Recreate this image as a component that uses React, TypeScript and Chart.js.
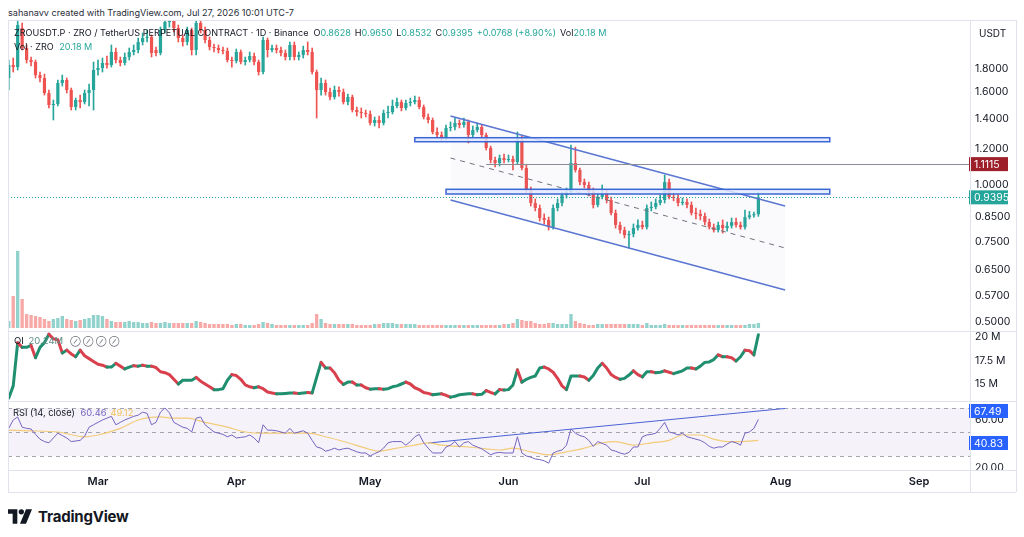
import React, { useEffect, useRef } from "react";
import { Chart, registerables } from "chart.js";
Chart.register(...registerables);

const FONT = "Inter, 'Noto Sans', 'DejaVu Sans', sans-serif";
const UP = "#26a69a";
const DOWN = "#ef5350";
const TEXT = "#131722";
const FRAME = "#e0e3eb";

// x axis: candle index (0 = Feb 9, 2026), one per day
const X_MIN = -0.17;
const X_MAX = 215.43;
const MONTHS = ["Mar", "Apr", "May", "Jun", "Jul", "Aug", "Sep"];
const MONTH_IDX = [20, 51, 81, 112, 142, 173, 204];

const OPEN = [
  1.719, 1.836, 1.817, 2.214, 2.001, 1.883, 1.864, 1.745, 1.719, 1.593,
  1.4995, 1.507, 1.676, 1.702, 1.618, 1.484, 1.538, 1.522, 1.593, 1.618,
  1.790, 1.808, 1.855, 1.836, 1.961, 1.883, 1.855, 1.912, 1.961, 1.981,
  2.063, 2.105, 2.116, 1.981, 1.951, 2.192, 2.283, 2.306, 2.214, 2.105,
  2.063, 2.192, 1.981, 2.271, 2.192, 2.084, 2.011, 2.001, 1.981, 1.971,
  1.883, 1.874, 1.961, 1.864, 1.883, 1.922, 1.864, 1.772, 2.084, 1.981,
  2.001, 1.981, 1.951, 1.912, 2.032, 1.912, 1.932, 1.981, 1.961, 1.772,
  1.618, 1.676, 1.601, 1.561, 1.618, 1.601, 1.522, 1.561, 1.462, 1.447,
  1.440, 1.433, 1.369, 1.390, 1.369, 1.440, 1.447, 1.492, 1.522, 1.477,
  1.515, 1.522, 1.538, 1.484, 1.411, 1.390, 1.308, 1.288, 1.269, 1.335,
  1.341, 1.369, 1.355, 1.376, 1.288, 1.321, 1.341, 1.288, 1.206, 1.135,
  1.118, 1.146, 1.135, 1.141, 1.124, 1.256, 1.090, 0.975, 0.913, 0.890,
  0.846, 0.838, 0.808, 0.890, 0.913, 0.951, 0.965, 1.118, 1.079, 1.015,
  1.000, 0.965, 0.904, 0.941, 0.960, 0.927, 0.868, 0.817, 0.796, 0.776,
  0.780, 0.804, 0.817, 0.808, 0.890, 0.895, 0.913, 0.927, 1.015, 0.941,
  0.936, 0.913, 0.918, 0.904, 0.868, 0.864, 0.855, 0.829, 0.808, 0.796,
  0.817, 0.804, 0.813, 0.829, 0.817, 0.808, 0.850, 0.858, 0.8628,
];
const HIGH = [
  1.883, 1.902, 2.306, 2.271, 2.032, 1.912, 1.883, 1.772, 1.754, 1.618,
  1.538, 1.702, 1.745, 1.719, 1.634, 1.553, 1.577, 1.618, 1.668, 1.864,
  1.883, 1.902, 1.922, 2.032, 2.001, 1.912, 1.951, 2.001, 2.032, 2.105,
  2.159, 2.192, 2.137, 2.011, 2.225, 2.329, 2.341, 2.329, 2.248, 2.137,
  2.225, 2.214, 2.306, 2.306, 2.225, 2.116, 2.042, 2.032, 2.011, 2.001,
  1.912, 1.991, 1.981, 1.912, 1.961, 1.951, 1.883, 2.116, 2.105, 2.032,
  2.032, 2.011, 1.981, 2.063, 2.063, 1.961, 2.021, 2.063, 2.001, 1.790,
  1.719, 1.702, 1.634, 1.651, 1.643, 1.626, 1.585, 1.577, 1.484, 1.477,
  1.462, 1.455, 1.411, 1.418, 1.462, 1.492, 1.538, 1.553, 1.538, 1.538,
  1.553, 1.569, 1.561, 1.4995, 1.433, 1.404, 1.335, 1.308, 1.355, 1.376,
  1.404, 1.390, 1.404, 1.390, 1.348, 1.369, 1.355, 1.301, 1.218, 1.152,
  1.164, 1.170, 1.164, 1.158, 1.308, 1.281, 1.107, 0.990, 0.932, 0.904,
  0.864, 0.850, 0.904, 0.932, 0.965, 0.985, 1.2245, 1.212, 1.090, 1.031,
  1.015, 0.985, 0.960, 1.000, 0.975, 0.941, 0.881, 0.829, 0.808, 0.792,
  0.821, 0.838, 0.833, 0.904, 0.918, 0.932, 0.951, 1.052, 1.031, 0.960,
  0.951, 0.936, 0.932, 0.918, 0.890, 0.881, 0.868, 0.842, 0.821, 0.829,
  0.838, 0.829, 0.846, 0.846, 0.829, 0.881, 0.875, 0.872, 0.9650,
];
const LOW = [
  1.618, 1.772, 1.790, 1.981, 1.855, 1.827, 1.719, 1.685, 1.577, 1.477,
  1.390, 1.492, 1.651, 1.593, 1.462, 1.462, 1.477, 1.507, 1.492, 1.462,
  1.745, 1.772, 1.808, 1.817, 1.855, 1.827, 1.836, 1.883, 1.932, 1.951,
  2.032, 2.063, 1.912, 1.922, 1.932, 2.159, 2.225, 2.170, 2.063, 2.021,
  2.032, 1.932, 1.932, 2.159, 2.053, 1.981, 1.961, 1.951, 1.941, 1.864,
  1.817, 1.855, 1.846, 1.836, 1.864, 1.836, 1.745, 1.754, 1.912, 1.961,
  1.951, 1.922, 1.883, 1.883, 1.883, 1.883, 1.902, 1.932, 1.754, 1.404,
  1.577, 1.577, 1.538, 1.545, 1.569, 1.507, 1.4995, 1.447, 1.418, 1.404,
  1.411, 1.355, 1.348, 1.335, 1.355, 1.404, 1.433, 1.477, 1.455, 1.462,
  1.492, 1.507, 1.470, 1.397, 1.369, 1.295, 1.269, 1.250, 1.256, 1.315,
  1.321, 1.335, 1.341, 1.237, 1.275, 1.308, 1.275, 1.194, 1.118, 1.096,
  1.101, 1.118, 1.124, 1.079, 1.112, 1.079, 0.960, 0.899, 0.877, 0.833,
  0.821, 0.796, 0.800, 0.877, 0.899, 0.936, 0.955, 1.068, 1.000, 0.985,
  0.946, 0.890, 0.895, 0.932, 0.913, 0.859, 0.804, 0.784, 0.765, 0.727,
  0.769, 0.796, 0.800, 0.800, 0.877, 0.886, 0.904, 0.913, 0.932, 0.923,
  0.899, 0.904, 0.890, 0.859, 0.842, 0.838, 0.817, 0.800, 0.788, 0.788,
  0.784, 0.792, 0.804, 0.808, 0.800, 0.800, 0.842, 0.850, 0.8532,
];
const CLOSE = [
  1.836, 1.817, 2.248, 2.001, 1.883, 1.864, 1.745, 1.719, 1.593, 1.4995,
  1.507, 1.676, 1.702, 1.618, 1.484, 1.538, 1.522, 1.593, 1.618, 1.790,
  1.808, 1.855, 1.836, 1.961, 1.883, 1.855, 1.912, 1.961, 1.981, 2.063,
  2.105, 2.116, 1.951, 1.951, 2.192, 2.283, 2.306, 2.214, 2.105, 2.063,
  2.192, 1.981, 2.271, 2.192, 2.084, 2.011, 2.001, 1.981, 1.971, 1.883,
  1.874, 1.961, 1.864, 1.883, 1.922, 1.864, 1.772, 2.084, 1.981, 2.001,
  1.981, 1.951, 1.912, 2.032, 1.912, 1.932, 1.981, 1.961, 1.772, 1.618,
  1.676, 1.601, 1.561, 1.618, 1.601, 1.522, 1.561, 1.462, 1.447, 1.440,
  1.433, 1.369, 1.390, 1.369, 1.440, 1.447, 1.492, 1.522, 1.477, 1.515,
  1.522, 1.538, 1.484, 1.411, 1.390, 1.308, 1.288, 1.269, 1.335, 1.341,
  1.369, 1.355, 1.376, 1.288, 1.321, 1.341, 1.288, 1.206, 1.135, 1.118,
  1.146, 1.135, 1.141, 1.124, 1.256, 1.090, 0.975, 0.913, 0.890, 0.846,
  0.838, 0.808, 0.890, 0.913, 0.951, 0.965, 1.118, 1.079, 1.015, 1.000,
  0.965, 0.904, 0.941, 0.960, 0.927, 0.868, 0.817, 0.796, 0.776, 0.780,
  0.804, 0.817, 0.808, 0.890, 0.895, 0.913, 0.927, 1.015, 0.941, 0.936,
  0.913, 0.918, 0.904, 0.868, 0.864, 0.855, 0.829, 0.808, 0.796, 0.817,
  0.804, 0.813, 0.829, 0.817, 0.808, 0.850, 0.858, 0.8628, 0.9395,
];
// volume, millions of ZRO
const VOLUME = [
  28, 128, 308, 116, 56, 52, 48, 44, 36, 28,
  36, 40, 48, 36, 32, 28, 32, 36, 40, 52,
  52, 48, 36, 28, 24, 24, 24, 28, 24, 24,
  20, 20, 24, 20, 20, 24, 20, 20, 20, 20,
  20, 20, 28, 24, 20, 16, 16, 16, 16, 16,
  12, 16, 16, 12, 12, 12, 16, 24, 20, 16,
  12, 12, 12, 12, 12, 12, 12, 12, 20, 56,
  36, 20, 16, 16, 16, 16, 16, 16, 12, 12,
  12, 12, 16, 16, 20, 20, 20, 16, 16, 16,
  16, 16, 12, 12, 12, 12, 12, 12, 12, 12,
  12, 12, 12, 12, 12, 12, 12, 12, 12, 12,
  12, 16, 16, 20, 36, 32, 28, 28, 20, 16,
  16, 20, 20, 16, 16, 16, 56, 28, 20, 16,
  12, 12, 16, 16, 16, 16, 16, 16, 16, 16,
  16, 16, 12, 20, 12, 12, 12, 16, 12, 12,
  12, 12, 12, 12, 12, 12, 12, 12, 12, 12,
  12, 12, 12, 12, 12, 12, 16, 16, 20,
];
// open interest, millions
const OI = [
  13.5, 14.8, 19.4, 18.9, 18.9, 19.1, 17.8, 18.9, 19.4, 20.3,
  19.8, 19.7, 18.3, 18.6, 18.2, 17.9, 18.6, 18.0, 17.7, 17.4,
  17.1, 17.0, 16.8, 16.8, 17.2, 16.9, 16.6, 16.8, 16.95, 16.9,
  17.0, 16.9, 16.9, 16.75, 16.3, 16.2, 16.0, 15.5, 15.0, 15.4,
  15.4, 15.4, 15.7, 15.3, 15.0, 14.7, 14.4, 14.4, 14.5, 15.4,
  16.0, 15.9, 15.5, 14.9, 14.7, 14.6, 14.7, 14.5, 14.15, 14.05,
  13.95, 13.95, 14.0, 14.05, 14.05, 14.0, 14.05, 14.1, 14.05, 15.7,
  17.3, 16.7, 16.7, 16.2, 15.4, 14.95, 15.2, 15.2, 14.9, 14.9,
  14.6, 14.45, 14.5, 14.5, 14.45, 14.5, 14.7, 14.8, 15.0, 15.2,
  15.0, 14.6, 14.4, 14.1, 14.0, 13.85, 13.9, 13.95, 13.8, 13.6,
  13.7, 13.85, 13.9, 13.95, 13.95, 13.85, 13.9, 14.3, 14.1, 13.95,
  14.4, 14.35, 14.4, 14.9, 16.5, 15.2, 15.5, 15.7, 15.85, 16.7,
  16.8, 16.6, 16.25, 15.6, 14.8, 14.4, 15.85, 15.85, 15.85, 15.75,
  15.4, 15.9, 16.7, 17.2, 16.7, 16.0, 15.7, 15.5, 15.6, 15.95,
  16.4, 16.0, 15.75, 16.3, 16.3, 16.2, 16.25, 16.4, 16.25, 16.1,
  16.25, 16.4, 16.7, 16.7, 16.6, 16.9, 17.3, 17.35, 17.6, 18.1,
  17.9, 17.9, 17.8, 17.45, 17.9, 18.6, 18.55, 18.1, 20.24,
];
const RSI = [
  53, 60, 62.5, 54, 53, 52.5, 48, 44, 42, 41,
  45, 49, 47, 45, 42, 42.5, 43, 46.5, 54, 56,
  58, 60, 61.5, 63, 56, 58, 60, 61.5, 63, 64,
  66.5, 65.5, 56, 58, 66.5, 70, 66, 58, 56, 54,
  53, 50, 61.5, 62.5, 56, 53, 50, 49, 48, 46,
  47.5, 45, 45.5, 46, 47.5, 45, 41, 56, 51.5, 51.5,
  51, 50, 49, 53, 49, 50, 51, 49, 43, 37.5,
  36.5, 34, 35, 36.5, 35, 36, 36.5, 35, 33.5, 32.5,
  32.5, 30, 32, 33.5, 36.5, 41, 42, 42, 42, 39,
  42, 46, 48, 41, 36.5, 32.5, 32.5, 32.5, 37.5, 39,
  42, 37.5, 41, 42, 39, 37.5, 36, 33.5, 31, 32.5,
  33, 32.5, 32.5, 32.5, 46, 32.5, 30, 29, 27.5, 27,
  26, 24, 32.5, 34, 35, 39, 52.5, 49, 47, 46,
  43, 38, 42, 40.5, 39, 35, 34, 32.5, 31.5, 33,
  37.5, 37.5, 46, 47.5, 48, 49, 53, 58, 50, 49,
  47.5, 49, 46, 45, 44, 43, 41, 38, 36.5, 37.5,
  37.5, 40, 42, 41, 39, 49, 50, 53, 60.46,
];
// RSI-based moving average, read at these candle indices
const RSI_MA_X = [0, 5, 11, 17, 20, 25, 29, 34, 37, 40, 44, 49, 53, 58, 62, 67, 71, 76, 80, 83, 86, 91, 94, 97, 103, 107, 110, 113, 117, 121, 125, 129, 133, 136, 140, 144, 148, 151, 155, 158, 161, 164, 168];
const RSI_MA = [51.5, 51, 50, 46, 47.5, 53, 60, 62.5, 61.5, 61.5, 58, 54, 50, 49, 49, 49, 46, 41, 36.5, 34, 36, 39, 41, 39, 37.5, 36, 35, 36.5, 33.5, 31, 33.5, 36.5, 41, 42, 39, 41, 43, 47.5, 47.5, 44, 42, 42, 43];

const PRICE_TICKS = [1.8, 1.6, 1.4, 1.2, 1.0, 0.85, 0.75, 0.65, 0.57, 0.5];
const OI_TICKS = [15, 17.5, 20];
const RSI_TICKS = [20, 60];

// drawings
const ZONE_TOPS = [1.2706, 0.9785];
const ZONE_BOTTOMS = [1.245, 0.9555];
const ZONE_STARTS = [91, 98];
const ZONE_END = 184;
const RES_LEVEL = 1.1115;
const RES_START = 107;
const LAST_PRICE = 0.9395;
const CHANNEL_X = [99, 174];
const CHANNEL_TOP = [1.418, 0.899];
const CHANNEL_MID = [1.1465, 0.727];
const CHANNEL_BOT = [0.927, 0.5877];
const RSI_TREND_X = [94, 174];
const RSI_TREND = [40.8, 69.6];
const RSI_LABELS = [67.49, 40.83];

const IDX = OPEN.map((_, i) => i);

function fixY(s: any) {
  s.width = 46;
  s.paddingTop = 0;
  s.paddingBottom = 0;
}
function fixX(s: any) {
  s.height = 22;
  s.paddingLeft = 0;
  s.paddingRight = 0;
}

function axisBox(chart: any, y: number, text: string, bg: string) {
  const { ctx, chartArea: a } = chart;
  ctx.save();
  ctx.fillStyle = bg;
  ctx.fillRect(a.right - 1, y - 7, 39, 14);
  ctx.fillStyle = "#ffffff";
  ctx.font = `10.5px ${FONT}`;
  ctx.textBaseline = "middle";
  ctx.textAlign = "left";
  ctx.fillText(text, a.right + 4, y + 0.5);
  ctx.restore();
}

const yTickBase = {
  autoSkip: false,
  padding: 5,
  color: TEXT,
  font: { family: FONT, size: 10.5 },
};

function xHidden() {
  return { type: "linear", min: X_MIN, max: X_MAX, display: false, offset: false };
}

export default function App() {
  const mainRef = useRef<HTMLCanvasElement>(null);
  const oiRef = useRef<HTMLCanvasElement>(null);
  const rsiRef = useRef<HTMLCanvasElement>(null);

  useEffect(() => {
    const candleColors = IDX.map((i) => (CLOSE[i] >= OPEN[i] ? UP : DOWN));
    const volColors = IDX.map((i) =>
      CLOSE[i] >= OPEN[i] ? "rgba(38,166,154,0.5)" : "rgba(239,83,80,0.5)"
    );

    const mainOverlay = {
      id: "mainOverlay",
      afterDatasetsDraw(chart: any) {
        const { ctx, chartArea: a, scales } = chart;
        const x = scales.x;
        const y = scales.y;
        ctx.save();
        ctx.beginPath();
        ctx.rect(a.left, a.top, a.width, a.height);
        ctx.clip();
        ZONE_TOPS.forEach((top, k) => {
          const x0 = x.getPixelForValue(ZONE_STARTS[k]);
          const x1 = x.getPixelForValue(ZONE_END);
          const y0 = y.getPixelForValue(top);
          const y1 = y.getPixelForValue(ZONE_BOTTOMS[k]);
          ctx.fillStyle = "rgba(226,234,253,0.85)";
          ctx.fillRect(x0, y0, x1 - x0, y1 - y0);
          ctx.strokeStyle = "#3b66d6";
          ctx.lineWidth = 1.5;
          ctx.strokeRect(x0, y0, x1 - x0, y1 - y0);
        });
        const ry = Math.round(y.getPixelForValue(RES_LEVEL)) + 0.5;
        ctx.strokeStyle = "#8a8d96";
        ctx.lineWidth = 1;
        ctx.beginPath();
        ctx.moveTo(x.getPixelForValue(RES_START), ry);
        ctx.lineTo(a.right, ry);
        ctx.stroke();
        const py = Math.round(y.getPixelForValue(LAST_PRICE)) + 0.5;
        ctx.strokeStyle = UP;
        ctx.setLineDash([1, 2]);
        ctx.beginPath();
        ctx.moveTo(a.left, py);
        ctx.lineTo(a.right, py);
        ctx.stroke();
        ctx.restore();
        axisBox(chart, y.getPixelForValue(RES_LEVEL), RES_LEVEL.toFixed(4), "#9c1f2a");
        axisBox(chart, y.getPixelForValue(LAST_PRICE), LAST_PRICE.toFixed(4), "#26a69a");
      },
    };

    const main = new Chart(mainRef.current as HTMLCanvasElement, {
      type: "bar",
      data: {
        datasets: [
          {
            type: "bar",
            label: "Volume",
            yAxisID: "yv",
            data: IDX.map((i) => ({ x: i, y: VOLUME[i] })),
            backgroundColor: volColors,
            grouped: false,
            barPercentage: 0.75,
            categoryPercentage: 1,
            order: 10,
          },
          {
            type: "bar",
            label: "Wick",
            yAxisID: "y",
            data: IDX.map((i) => ({ x: i, y: [LOW[i], HIGH[i]] })),
            backgroundColor: candleColors,
            grouped: false,
            barThickness: 1,
            order: 6,
          },
          {
            type: "bar",
            label: "Body",
            yAxisID: "y",
            data: IDX.map((i) => ({ x: i, y: [OPEN[i], CLOSE[i]] })),
            backgroundColor: candleColors,
            grouped: false,
            barPercentage: 0.72,
            categoryPercentage: 1,
            minBarLength: 1,
            order: 5,
          },
          {
            type: "line",
            label: "Channel top",
            yAxisID: "y",
            data: CHANNEL_X.map((x, k) => ({ x, y: CHANNEL_TOP[k] })),
            borderColor: "#5a76d2",
            borderWidth: 1.5,
            pointRadius: 0,
            fill: { target: 5 },
            backgroundColor: "rgba(120,110,210,0.035)",
            order: 1,
          },
          {
            type: "line",
            label: "Channel mid",
            yAxisID: "y",
            data: CHANNEL_X.map((x, k) => ({ x, y: CHANNEL_MID[k] })),
            borderColor: "#70737c",
            borderWidth: 1,
            borderDash: [5, 5],
            pointRadius: 0,
            fill: false,
            order: 1,
          },
          {
            type: "line",
            label: "Channel bottom",
            yAxisID: "y",
            data: CHANNEL_X.map((x, k) => ({ x, y: CHANNEL_BOT[k] })),
            borderColor: "#5a76d2",
            borderWidth: 1.5,
            pointRadius: 0,
            fill: false,
            order: 1,
          },
        ],
      } as any,
      options: {
        responsive: false,
        animation: false,
        events: [],
        layout: { padding: 0 },
        plugins: { legend: { display: false }, tooltip: { enabled: false } },
        scales: {
          x: xHidden(),
          y: {
            type: "logarithmic",
            position: "right",
            min: 0.4775,
            max: 2.306,
            afterBuildTicks: (s: any) => {
              s.ticks = PRICE_TICKS.map((v) => ({ value: v }));
            },
            afterFit: fixY,
            grid: { display: false, drawTicks: false },
            border: { display: false },
            ticks: { ...yTickBase, callback: (v: any) => Number(v).toFixed(4) },
          },
          yv: { type: "linear", display: false, min: -12, max: 1232 },
        },
      } as any,
      plugins: [mainOverlay],
    });

    const oi = new Chart(oiRef.current as HTMLCanvasElement, {
      type: "line",
      data: {
        datasets: [
          {
            label: "OI",
            data: IDX.map((i) => ({ x: i, y: OI[i] })),
            borderWidth: 3,
            borderColor: "#1f8f70",
            borderJoinStyle: "round",
            borderCapStyle: "round",
            pointRadius: 0,
            segment: {
              borderColor: (c: any) => (c.p1.parsed.y >= c.p0.parsed.y ? "#1f8f70" : "#d9404d"),
            },
          },
        ],
      } as any,
      options: {
        responsive: false,
        animation: false,
        events: [],
        layout: { padding: 0 },
        plugins: { legend: { display: false }, tooltip: { enabled: false } },
        scales: {
          x: xHidden(),
          y: {
            type: "linear",
            position: "right",
            min: 13.19,
            max: 20.64,
            afterBuildTicks: (s: any) => {
              s.ticks = OI_TICKS.map((v) => ({ value: v }));
            },
            afterFit: fixY,
            grid: { display: false, drawTicks: false },
            border: { display: false },
            ticks: { ...yTickBase, callback: (v: any) => `${v} M` },
          },
        },
      } as any,
    });

    const rsiOverlay = {
      id: "rsiOverlay",
      beforeDatasetsDraw(chart: any) {
        const { ctx, chartArea: a, scales } = chart;
        const y = scales.y;
        const y70 = y.getPixelForValue(70);
        const y30 = y.getPixelForValue(30);
        ctx.save();
        ctx.fillStyle = "rgba(126,87,194,0.08)";
        ctx.fillRect(a.left, y70, a.width, y30 - y70);
        ctx.strokeStyle = "#a3a6af";
        ctx.lineWidth = 1;
        ctx.setLineDash([4, 4]);
        [70, 50, 30].forEach((v) => {
          const py = Math.round(y.getPixelForValue(v)) + 0.5;
          ctx.beginPath();
          ctx.moveTo(a.left, py);
          ctx.lineTo(a.right, py);
          ctx.stroke();
        });
        ctx.restore();
      },
      afterDraw(chart: any) {
        const y = chart.scales.y;
        RSI_LABELS.forEach((v) => axisBox(chart, y.getPixelForValue(v), v.toFixed(2), "#2962ff"));
      },
    };

    const rsi = new Chart(rsiRef.current as HTMLCanvasElement, {
      type: "line",
      data: {
        datasets: [
          {
            label: "RSI",
            data: IDX.map((i) => ({ x: i, y: RSI[i] })),
            borderColor: "#7464c0",
            borderWidth: 1,
            pointRadius: 0,
          },
          {
            label: "RSI MA",
            data: RSI_MA_X.map((x, k) => ({ x, y: RSI_MA[k] })),
            borderColor: "#f3cc7a",
            borderWidth: 1.2,
            pointRadius: 0,
            cubicInterpolationMode: "monotone",
          },
          {
            label: "Trend",
            data: RSI_TREND_X.map((x, k) => ({ x, y: RSI_TREND[k] })),
            borderColor: "#4a62d4",
            borderWidth: 1,
            pointRadius: 0,
          },
        ],
      } as any,
      options: {
        responsive: false,
        animation: false,
        events: [],
        layout: { padding: 0 },
        plugins: { legend: { display: false }, tooltip: { enabled: false } },
        scales: {
          x: {
            type: "linear",
            min: X_MIN,
            max: X_MAX,
            offset: false,
            afterBuildTicks: (s: any) => {
              s.ticks = MONTH_IDX.map((v) => ({ value: v }));
            },
            afterFit: fixX,
            grid: { display: false, drawTicks: false },
            border: { display: false },
            ticks: {
              autoSkip: false,
              maxRotation: 0,
              padding: 5,
              color: TEXT,
              font: { family: FONT, size: 11, weight: "600" },
              callback: (v: any) => MONTHS[MONTH_IDX.indexOf(Number(v))] ?? "",
            },
          },
          y: {
            type: "linear",
            position: "right",
            min: 18.33,
            max: 75.8,
            afterBuildTicks: (s: any) => {
              s.ticks = RSI_TICKS.map((v) => ({ value: v }));
            },
            afterFit: fixY,
            grid: { display: false, drawTicks: false },
            border: { display: false },
            ticks: { ...yTickBase, callback: (v: any) => Number(v).toFixed(2) },
          },
        },
      } as any,
      plugins: [rsiOverlay],
    });

    return () => {
      main.destroy();
      oi.destroy();
      rsi.destroy();
    };
  }, []);

  const abs = (s: React.CSSProperties): React.CSSProperties => ({ position: "absolute", ...s });
  const hLine = (top: number, left = 8, width = 1008) => (
    <div style={abs({ left, top, width, height: 1, background: FRAME })} />
  );
  const val = { color: UP };

  return (
    <div style={abs({ left: 0, top: 0, width: 1024, height: 537, background: "#fff", overflow: "hidden", fontFamily: FONT, color: TEXT })}>
      <div style={abs({ left: 8, top: 7, fontSize: 9.1, whiteSpace: "nowrap", color: "#2a2e39" })}>
        sahanavv created with TradingView.com, Jul 27, 2026 10:01 UTC-7
      </div>
      <canvas ref={mainRef} width={1008} height={311} style={abs({ left: 8, top: 20, width: 1008, height: 311 })} />
      <canvas ref={oiRef} width={1008} height={70} style={abs({ left: 8, top: 331, width: 1008, height: 70 })} />
      <canvas ref={rsiRef} width={1008} height={91} style={abs({ left: 8, top: 401, width: 1008, height: 91 })} />

      {hLine(20)}
      {hLine(331)}
      {hLine(401)}
      {hLine(470)}
      {hLine(492)}
      <div style={abs({ left: 8, top: 20, width: 1, height: 472, background: FRAME })} />
      <div style={abs({ left: 970, top: 20, width: 1, height: 472, background: FRAME })} />
      <div style={abs({ left: 1016, top: 20, width: 1, height: 472, background: FRAME })} />

      <div style={abs({ left: 979, top: 27, fontSize: 10, color: TEXT })}>USDT</div>

      <div style={abs({ left: 14, top: 27, fontSize: 9.1, whiteSpace: "nowrap" })}>
        ZROUSDT.P · ZRO / TetherUS PERPETUAL CONTRACT · 1D · Binance
        <span style={{ marginLeft: 5 }}>O</span><span style={val}>0.8628</span>
        <span style={{ marginLeft: 4 }}>H</span><span style={val}>0.9650</span>
        <span style={{ marginLeft: 4 }}>L</span><span style={val}>0.8532</span>
        <span style={{ marginLeft: 4 }}>C</span><span style={val}>0.9395</span>
        <span style={{ ...val, marginLeft: 4 }}>+0.0768 (+8.90%)</span>
        <span style={{ marginLeft: 4 }}>Vol</span><span style={val}>20.18 M</span>
      </div>
      <div style={abs({ left: 14, top: 41, fontSize: 9.1, whiteSpace: "nowrap" })}>
        Vol · ZRO <span style={{ ...val, marginLeft: 3 }}>20.18 M</span>
      </div>

      <div style={abs({ left: 14, top: 335, fontSize: 9.5, whiteSpace: "nowrap" })}>
        OI <span style={{ color: "#5d8f86", marginLeft: 2 }}>20.24M</span>
        <span style={{ color: "#6a6d78", marginLeft: 7, letterSpacing: 2.5, fontSize: 7.5 }}>⊘⊘⊘⊘</span>
      </div>

      <div style={abs({ left: 13, top: 407, fontSize: 9.3, whiteSpace: "nowrap" })}>
        RSI (14, close) <span style={{ color: "#7464c0", marginLeft: 3 }}>60.46</span>
        <span style={{ color: "#f0c25c", marginLeft: 4 }}>49.12</span>
      </div>

      <div style={abs({ left: 8, top: 507, display: "flex", alignItems: "center" })}>
        <svg width="24" height="15" viewBox="0 0 36 22">
          <path d="M0 0h14v22H7V7H0z" fill="#131722" />
          <circle cx="20" cy="4" r="4" fill="#131722" />
          <path d="M27 0h9l-9 22h-9z" fill="#131722" />
        </svg>
        <span style={{ marginLeft: 6, fontSize: 15, fontWeight: 700, color: "#131722", letterSpacing: -0.2 }}>TradingView</span>
      </div>
    </div>
  );
}
